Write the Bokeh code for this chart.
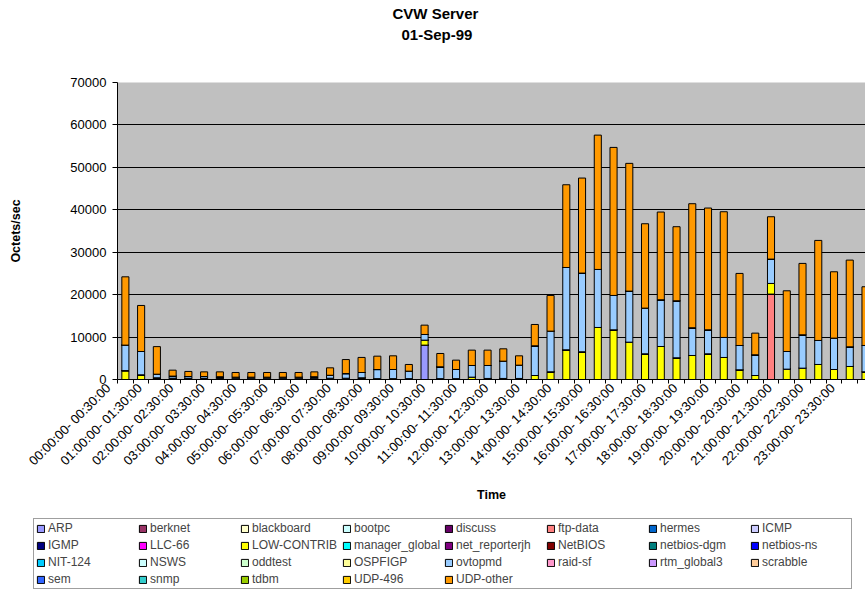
from bokeh.plotting import figure
from bokeh.layouts import column, row
from bokeh.models import Range1d, FixedTicker, Legend, LegendItem, Title, ColumnDataSource
from bokeh.embed import file_html
from bokeh.resources import INLINE
from math import pi

# ---------------- data ----------------
series = ["ARP", "berknet", "blackboard", "bootpc", "discuss", "ftp-data", "hermes", "ICMP",
          "IGMP", "LLC-66", "LOW-CONTRIB", "manager_global", "net_reporterjh", "NetBIOS",
          "netbios-dgm", "netbios-ns", "NIT-124", "NSWS", "oddtest", "OSPFIGP", "ovtopmd",
          "raid-sf", "rtm_global3", "scrabble", "sem", "snmp", "tdbm", "UDP-496", "UDP-other"]
colors = ["#9999FF", "#993366", "#FFFFCC", "#CCFFFF", "#660066", "#FF8080", "#0066CC", "#CCCCFF",
          "#000080", "#FF00FF", "#FFFF00", "#00FFFF", "#800080", "#800000",
          "#008080", "#0000FF", "#00CCFF", "#CCFFFF", "#CCFFCC", "#FFFF99", "#99CCFF",
          "#FF99CC", "#CC99FF", "#FFCC99", "#3366FF", "#33CCCC", "#99CC00", "#FFCC00", "#FF9900"]

tick_labels = ["00:00:00- 00:30:00", "01:00:00- 01:30:00", "02:00:00- 02:30:00",
               "03:00:00- 03:30:00", "04:00:00- 04:30:00", "05:00:00- 05:30:00",
               "06:00:00- 06:30:00", "07:00:00- 07:30:00", "08:00:00- 08:30:00",
               "09:00:00- 09:30:00", "10:00:00- 10:30:00", "11:00:00- 11:30:00",
               "12:00:00- 12:30:00", "13:00:00- 13:30:00", "14:00:00- 14:30:00",
               "15:00:00- 15:30:00", "16:00:00- 16:30:00", "17:00:00- 17:30:00",
               "18:00:00- 18:30:00", "19:00:00- 19:30:00", "20:00:00- 20:30:00",
               "21:00:00- 21:30:00", "22:00:00- 22:30:00", "23:00:00- 23:30:00"]

# half-hour intervals 0..47
slots = list(range(48))

arp = [0, 0, 0, 0, 0, 0, 0, 0, 0, 0, 0, 0, 0, 0, 0, 0,
       0, 0, 0, 8100, 0, 0, 0, 0, 0, 0, 0, 0, 0, 0, 0, 0,
       0, 0, 0, 0, 0, 0, 0, 0, 0, 0, 0, 0, 0, 0, 0, 0]
ftp_data = [0, 0, 0, 0, 0, 0, 0, 0, 0, 0, 0, 0, 0, 0, 0, 0,
            0, 0, 0, 0, 0, 0, 0, 0, 0, 0, 0, 0, 0, 0, 0, 0,
            0, 0, 0, 0, 0, 0, 0, 0, 0, 20130, 0, 0, 0, 0, 0, 0]
low_contrib = [2100, 1100, 400, 300, 250, 250, 250, 200, 200, 200, 200, 200, 200, 300, 300, 400,
               200, 200, 200, 1180, 200, 200, 550, 250, 250, 250, 940, 1810, 7000, 6530, 12260, 11700,
               8800, 6050, 7780, 5110, 5660, 6050, 5190, 2280, 940, 2510, 2440, 2670, 3540, 2360, 3070, 1810]
ovtopmd = [6000, 5500, 850, 500, 450, 450, 400, 350, 350, 350, 350, 350, 450, 700, 1100, 1250,
           2150, 2160, 1770, 1330, 2790, 2160, 2750, 3050, 4070, 3130, 7000, 9590, 19400, 18550, 13680, 8110,
           12030, 10770, 11010, 13440, 6530, 5660, 4720, 5740, 4880, 5740, 4160, 7860, 5660, 7390, 4630, 6210]
udp_other = [16100, 10850, 6500, 1400, 1200, 1100, 1150, 1100, 1100, 1100, 1100, 1100, 1150, 1750, 3300, 3550,
             3150, 3220, 1570, 2200, 3140, 2200, 3620, 3620, 2910, 2200, 5030, 8410, 19500, 22400, 31660, 34890,
             30110, 19890, 20680, 17460, 29240, 28700, 29630, 16980, 5110, 9980, 14310, 16830, 23580, 15640, 20440, 13840]
zeros = [0] * 48

values = {s: zeros for s in series}
values["ARP"] = arp
values["ftp-data"] = ftp_data
values["LOW-CONTRIB"] = low_contrib
values["ovtopmd"] = ovtopmd
values["UDP-other"] = udp_other

data = {"x": slots}
keys = []
for i, s in enumerate(series):
    k = "s%d" % i
    keys.append(k)
    data[k] = values[s]
src = ColumnDataSource(data)

FONT = "Liberation Sans"
NB = "\u00a0"

p = figure(width=865, height=510, output_backend="svg", toolbar_location=None,
           x_range=Range1d(-0.5, 47.0), y_range=Range1d(0, 70000),
           min_border_left=117, min_border_right=0, min_border_top=82, min_border_bottom=131)
p.background_fill_color = "#C0C0C0"
p.border_fill_color = "white"
p.outline_line_color = None

renderers = p.vbar_stack(keys, x="x", width=0.45, source=src, fill_color=colors,
                         line_color="black", line_width=1)

# axes
label_pos = [2 * i - 0.4375 for i in range(24)]
p.xaxis.ticker = FixedTicker(ticks=label_pos, minor_ticks=[i - 0.5 for i in range(49)])
p.xaxis.major_label_overrides = {pos: lab + NB * 4 for pos, lab in zip(label_pos, tick_labels)}
p.xaxis.major_label_orientation = pi / 4
p.xaxis.major_tick_line_color = None
p.xaxis.major_tick_out = 4
p.xaxis.major_tick_in = 0
p.xaxis.minor_tick_line_color = "black"
p.xaxis.minor_tick_out = 4
p.xaxis.minor_tick_in = 0
p.xaxis.axis_line_color = "black"
p.xaxis.major_label_text_font = FONT
p.xaxis.major_label_text_font_size = "13px"
p.xaxis.major_label_text_color = "black"
p.xaxis.major_label_standoff = -8
p.xaxis.axis_label = "Time"
p.xaxis.axis_label_text_font = FONT
p.xaxis.axis_label_text_font_size = "12.5px"
p.xaxis.axis_label_text_font_style = "bold"
p.xaxis.axis_label_text_color = "black"
p.xaxis.axis_label_standoff = 11

p.yaxis.ticker = FixedTicker(ticks=[0, 10000, 20000, 30000, 40000, 50000, 60000, 70000])
p.yaxis.minor_tick_line_color = None
p.yaxis.major_tick_out = 5
p.yaxis.major_tick_in = 0
p.yaxis.major_tick_line_color = "black"
p.yaxis.axis_line_color = "black"
p.yaxis.major_label_text_font = FONT
p.yaxis.major_label_text_font_size = "13px"
p.yaxis.major_label_text_color = "black"
p.yaxis.major_label_standoff = 6
p.yaxis.axis_label = "Octets/sec"
p.yaxis.axis_label_text_font = FONT
p.yaxis.axis_label_text_font_size = "12.5px"
p.yaxis.axis_label_text_font_style = "bold"
p.yaxis.axis_label_text_color = "black"
p.yaxis.axis_label_standoff = 44

p.xgrid.grid_line_color = None
p.ygrid.grid_line_color = "black"
p.ygrid.grid_line_width = 1

# titles (first added sits closest to the plot); a blank spacer keeps them high
p.add_layout(Title(text=" ", standoff=35, text_font_size="1px"), "above")
p.add_layout(Title(text="01-Sep-99", align="left", offset=284, standoff=3,
                   text_font=FONT, text_font_size="15px", text_font_style="bold",
                   text_color="black"), "above")
p.add_layout(Title(text="CVW Server", align="left", offset=275, standoff=2,
                   text_font=FONT, text_font_size="15px", text_font_style="bold",
                   text_color="black"), "above")

# legend strip below the chart (swatch renderers are hidden; only their legend shows)
p2 = figure(width=865, height=80, output_backend="svg", toolbar_location=None,
            x_axis_location=None, y_axis_location=None, min_border=0,
            x_range=Range1d(-0.5, 47.0), y_range=Range1d(0, 70000))
p2.outline_line_color = None
p2.grid.visible = False
p2.background_fill_color = "white"
p2.border_fill_color = "white"

items = []
for s, k, c in zip(series, keys, colors):
    r = p2.vbar(x="x", top=k, width=0.45, source=src, fill_color=c, line_color="black",
                line_width=1, visible=False)
    items.append(LegendItem(label=s, renderers=[r]))
legend = Legend(items=items, location=(33, 1), orientation="horizontal", ncols=8,
                glyph_width=9, glyph_height=9, label_width=87, label_height=14,
                label_standoff=3, spacing=3, padding=2, margin=0,
                label_text_font=FONT, label_text_font_size="12px",
                border_line_color="#404040", border_line_width=1,
                background_fill_color="white", background_fill_alpha=1.0,
                inactive_fill_alpha=0.0)
p2.add_layout(legend)

layout = column(p, row(p2, spacing=0), spacing=0)
open("out.html", "w").write(file_html(layout, INLINE))
